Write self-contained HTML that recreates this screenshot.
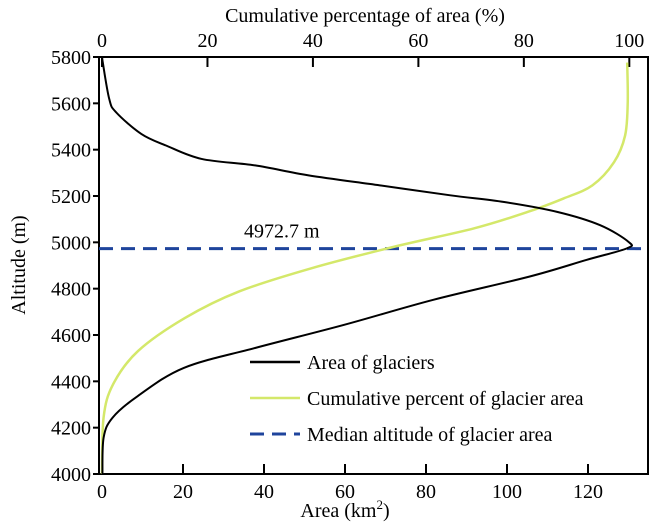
<!DOCTYPE html>
<html><head><meta charset="utf-8"><style>
body{margin:0;background:#fff;}
svg text{font-family:"Liberation Serif",serif;fill:#000;}
</style></head><body>
<svg id="chart" width="650" height="524" xmlns="http://www.w3.org/2000/svg"></svg>
<script>
const altitudes=[5800,5776,5618,5561,5468,5418,5360,5332,5289,5246,5203,5174,5131,5074,5002,4974,4924,4852,4752,4644,4544,4458,4336,4243,4157,4000];
const areaValues=[0.1,0.2,1.8,3.5,9.7,15.8,24.6,37.8,51,68.6,86,99.3,112.5,123,130,129.6,119.6,105.5,81.8,59.8,37.8,20.2,8.8,2.6,0.4,0.1];
const cumAltitudes=[5776,5604,5461,5346,5246,5189,5131,5060,4981,4888,4788,4673,4530,4387,4244,4000];
const cumValues=[99.6,99.7,99.2,97.1,93,87.5,80.7,70.5,55.4,39.7,26,15.7,6.8,2.1,0.3,0];
const medianAltitude=4972.7;
const yTicks=[4000,4200,4400,4600,4800,5000,5200,5400,5600,5800];
const xTicks=[0,20,40,60,80,100,120];
const topTicks=[0,20,40,60,80,100];
const L=99,R=648,T=57,B=474;
const x=v=>102+v*(486/120);
const xp=v=>102+v*(130.2*486/120)/100;
const y=v=>B-(v-4000)*(B-T)/1800;
const svg=document.getElementById('chart');
const NS='http://www.w3.org/2000/svg';
function mk(tag,attrs,parent){const e=document.createElementNS(NS,tag);for(const k in attrs)e.setAttribute(k,attrs[k]);(parent||svg).appendChild(e);return e;}
let e;
e=mk('rect',{x:L,y:T,width:R-L,height:B-T,fill:'none',stroke:'#000','stroke-width':2});


yTicks.forEach(t=>{
 e=mk('line',{x1:L-6,x2:L,y1:y(t),y2:y(t),stroke:'#000','stroke-width':2});
 
 
 e=mk('text',{x:L-8,y:y(t)+7,'text-anchor':'end','font-size':20});e.textContent=t;
 
 
});
xTicks.forEach(t=>{
 e=mk('line',{x1:x(t),x2:x(t),y1:B,y2:B-10,stroke:'#000','stroke-width':2});
 
 
 e=mk('text',{x:x(t),y:B+24,'text-anchor':'middle','font-size':20});e.textContent=t;
 
 
});
topTicks.forEach(t=>{
 e=mk('line',{x1:xp(t),x2:xp(t),y1:T,y2:T+10,stroke:'#000','stroke-width':2});
 
 
 e=mk('text',{x:xp(t),y:T-10,'text-anchor':'middle','font-size':20});e.textContent=t;
 
 
});
e=mk('text',{x:365,y:22,'text-anchor':'middle','font-size':20});e.textContent='Cumulative percentage of area (%)';


e=mk('text',{x:345,y:517,'text-anchor':'middle','font-size':20});e.innerHTML='Area (km<tspan font-size="13" dy="-8">2</tspan><tspan dy="8">)</tspan>';


e=mk('text',{x:0,y:0,'text-anchor':'middle','font-size':20,transform:'translate(25,265) rotate(-90)'});e.textContent='Altitude (m)';


e=mk('line',{x1:L,x2:R,y1:y(medianAltitude),y2:y(medianAltitude),stroke:'#1f449c','stroke-width':3,'stroke-dasharray':'14 8'});


e=mk('text',{x:244,y:y(medianAltitude)-11,'font-size':20});e.textContent=medianAltitude+' m';


function smooth(pts){let d='M'+pts[0][0]+','+pts[0][1];for(let i=0;i<pts.length-1;i++){const p0=pts[i-1]||pts[i],p1=pts[i],p2=pts[i+1],p3=pts[i+2]||p2;d+=' C'+(p1[0]+(p2[0]-p0[0])/6)+','+(p1[1]+(p2[1]-p0[1])/6)+' '+(p2[0]-(p3[0]-p1[0])/6)+','+(p2[1]-(p3[1]-p1[1])/6)+' '+p2[0]+','+p2[1];}return d;}
e=mk('path',{d:smooth(cumValues.map((v,i)=>[xp(v),y(cumAltitudes[i])])),fill:'none',stroke:'#d4e86a','stroke-width':2.5});


e=mk('path',{d:smooth(areaValues.map((v,i)=>[x(v),y(altitudes[i])])),fill:'none',stroke:'#000','stroke-width':2});


const legend=[['Area of glaciers','#000',''],['Cumulative percent of glacier area','#d4e86a',''],['Median altitude of glacier area','#1f449c','14 8']];
legend.forEach((l,i)=>{
 const ly=362+i*36;
 e=mk('line',{x1:250,x2:300,y1:ly,y2:ly,stroke:l[1],'stroke-width':i==2?3:2.5,'stroke-dasharray':l[2]});
 
 
 e=mk('text',{x:307,y:ly+7,'font-size':20});e.textContent=l[0];
 
 
});
</script>
</body></html>
